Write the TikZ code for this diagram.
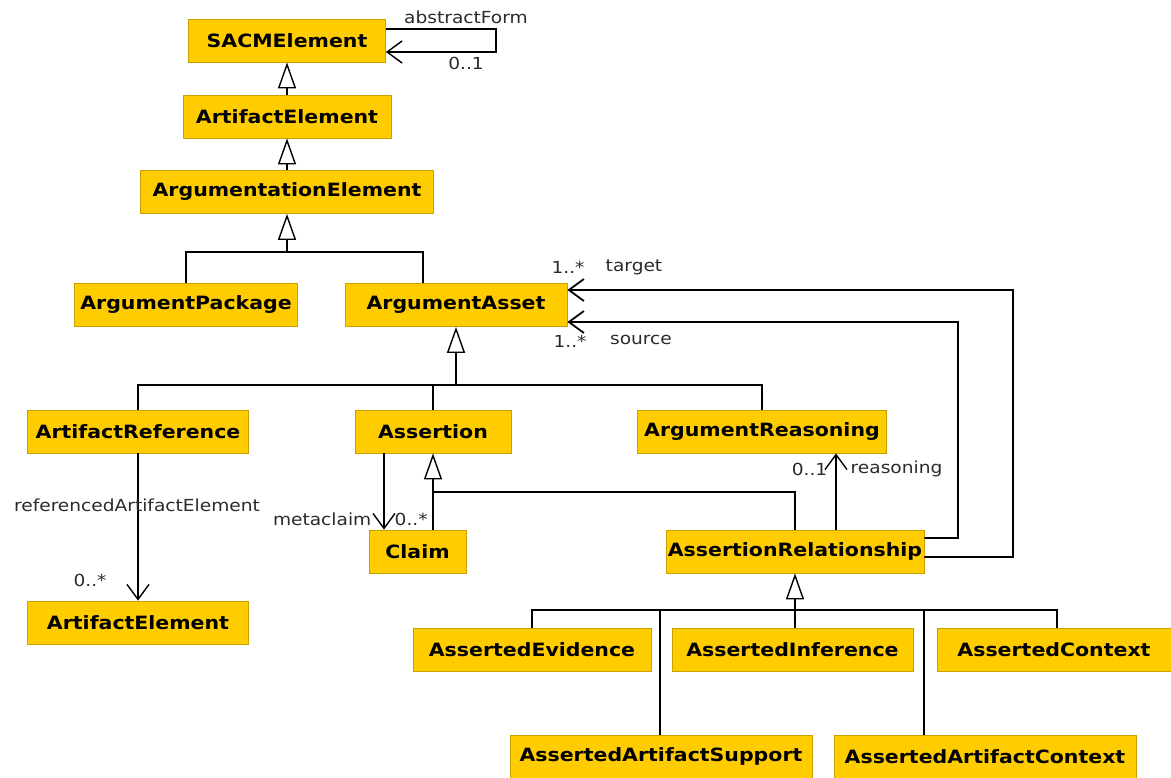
\documentclass[tikz,border=0pt]{standalone}
\usepackage{fontspec}
\setmainfont{DejaVu Sans}[FakeStretch=1.12]
\usepackage{tikz}
\usetikzlibrary{arrows.meta}
\definecolor{umlfill}{HTML}{FFCC00}
\definecolor{umlborder}{HTML}{C9A200}
\definecolor{lbltext}{HTML}{2A2A2A}

\begin{document}
\begin{tikzpicture}[x=1bp,y=-1bp,line width=1.4bp]
  \tikzstyle{cls}=[draw=umlborder, fill=umlfill, line width=0.8bp, minimum height=43bp, inner sep=0pt, font=\bfseries\fontsize{18.3bp}{22bp}\selectfont]
  \tikzstyle{gen}=[-{Triangle[width=18bp,length=26bp,fill=white]}, line join=miter]
  \tikzstyle{assoc}=[-{Straight Barb[length=15bp,width=22bp]}]
  \tikzstyle{lbl}=[inner sep=0pt, text=lbltext, font=\fontsize{16.6bp}{20bp}\selectfont]
  \useasboundingbox (0,0) rectangle (1171,778);

  % classes
  \node[cls, minimum width=197bp] (sacm) at (287,40.5) {SACMElement};
  \node[cls, minimum width=208bp] (artel) at (287,116.5) {ArtifactElement};
  \node[cls, minimum width=293bp] (argel) at (287,192) {ArgumentationElement};
  \node[cls, minimum width=223bp] (pkg) at (186,305) {ArgumentPackage};
  \node[cls, minimum width=222bp] (asset) at (456,305) {ArgumentAsset};
  \node[cls, minimum width=221bp] (aref) at (138,431.5) {ArtifactReference};
  \node[cls, minimum width=156bp] (assertion) at (433,431.5) {Assertion};
  \node[cls, minimum width=249bp] (reasoning) at (762,431.5) {ArgumentReasoning};
  \node[cls, minimum width=97bp] (claim) at (417.5,551.5) {Claim};
  \node[cls, minimum width=258bp] (rel) at (795,551.5) {AssertionRelationship};
  \node[cls, minimum width=221bp] (artel2) at (138,622.5) {ArtifactElement};
  \node[cls, minimum width=238bp] (evid) at (532,649.5) {AssertedEvidence};
  \node[cls, minimum width=241bp] (infer) at (792.5,649.5) {AssertedInference};
  \node[cls, minimum width=234bp] (ctx) at (1054,649.5) {AssertedContext};
  \node[cls, minimum width=302bp] (asupp) at (661,756.5) {AssertedArtifactSupport};
  \node[cls, minimum width=302bp] (actx) at (985,756.5) {AssertedArtifactContext};

  % junctions
  \coordinate (j1) at (287,252);
  \coordinate (j2) at (456,385);
  \coordinate (j3) at (433,492);
  \coordinate (j4) at (795,610);
  \coordinate (tgt) at (1013,290);
  \coordinate (src) at (958,322);

  % generalizations
  \draw[gen] (artel) -- (sacm);
  \draw[gen] (argel) -- (artel);
  \draw[gen] (j1) -- (argel);
  \draw (pkg.north) |- (j1) -| ([xshift=-33bp]asset.north);
  \draw[gen] (j2) -- (asset);
  \draw (aref.north) |- (j2) -| (reasoning.north);
  \draw (assertion.north) -- (assertion.north |- j2);
  \draw[gen] (claim.north -| j3) -- (assertion.south);
  \draw (j3) -| (rel.north);
  \draw[gen] (j4) -- (rel);
  \draw (evid.north) |- (j4) -| ([xshift=3bp]ctx.north);
  \foreach \n/\dx in {infer/2.5,asupp/-1,actx/-61} {
    \draw ([xshift=\dx bp]\n.north) -- ([xshift=\dx bp]\n.north |- j4);
  }

  % associations
  \draw[assoc] ([yshift=11.5bp]sacm.east) -- ++(110,0) |- ([yshift=-11.5bp]sacm.east);
  \node[lbl] (l-abs) at (466,17) {abstractForm};
  \node[lbl] (m-abs) at (466,63) {0..1};

  \draw[assoc] (aref) -- (artel2);
  \node[lbl] (l-ref) at (137,505) {referencedArtifactElement};
  \node[lbl] (m-ref) at (90,580) {0..*};

  \draw[assoc] ([xshift=-49bp]assertion.south) -- ([xshift=-49bp]assertion.south |- claim.north);
  \node[lbl, anchor=east] (l-meta) at (372,519) {metaclaim};
  \node[lbl, anchor=west] (m-meta) at (394,519) {0..*};

  \draw[assoc] ([xshift=41bp]rel.north) -- ([xshift=41bp]rel.north |- reasoning.south);
  \node[lbl, anchor=east] (m-rea) at (828,469) {0..1};
  \node[lbl, anchor=west] (l-rea) at (850,469) {reasoning};

  \draw[assoc, line width=1.8bp] ([yshift=-5.5bp]rel.east) -| (tgt) -- ([yshift=15bp]asset.east);
  \node[lbl] (m-tgt) at (568,267) {1..*};
  \node[lbl] (l-tgt) at (634,267) {target};

  \draw[assoc, line width=1.8bp] ([yshift=13.5bp]rel.east) -| (src) -- ([yshift=-17bp]asset.east);
  \node[lbl] (m-src) at (570,341) {1..*};
  \node[lbl] (l-src) at (641,340) {source};
\end{tikzpicture}
\end{document}
